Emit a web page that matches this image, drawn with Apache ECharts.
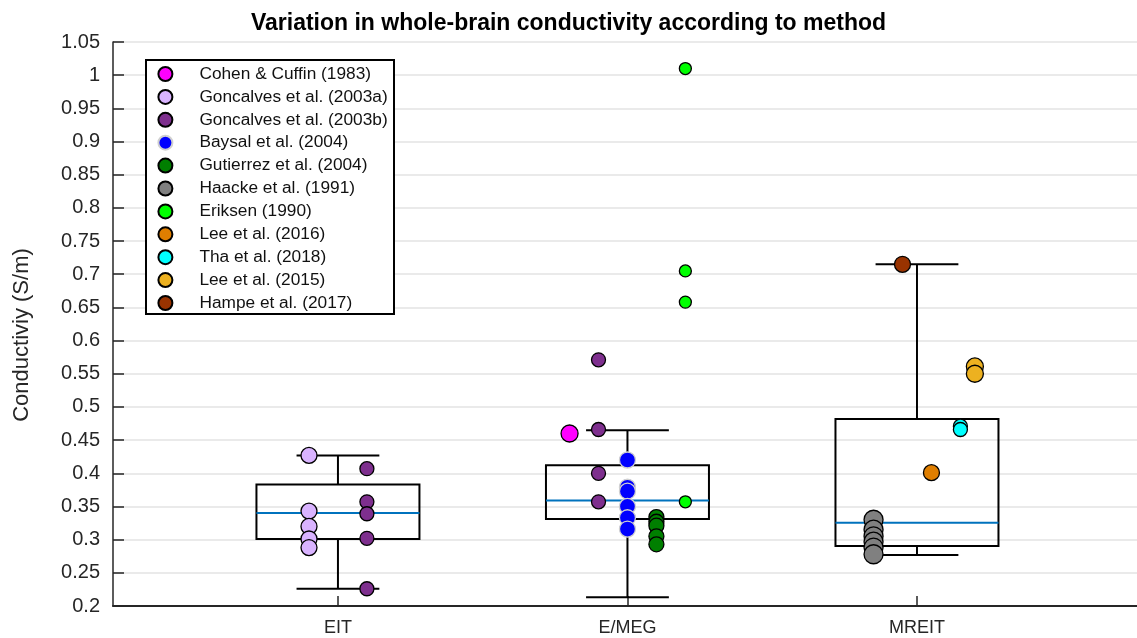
<!DOCTYPE html>
<html>
<head>
<meta charset="utf-8">
<script src="https://cdn.jsdelivr.net/npm/echarts@6/dist/echarts.min.js"></script>
<style>
html,body{margin:0;padding:0;background:#fff;}
#chart{width:1137px;height:638px;}
</style>
</head>
<body>
<div id="chart"></div>
<script>
// ---- data ----
const categories = ['EIT', 'E/MEG', 'MREIT'];
const categoryPositions = [1, 2, 3];
// [position, lower whisker, Q1, median, Q3, upper whisker]
const boxStats = [
  [1, 0.226, 0.301, 0.340, 0.383, 0.427],
  [2, 0.213, 0.331, 0.359, 0.412, 0.465],
  [3, 0.277, 0.2905, 0.3255, 0.482, 0.715]
];
const cohen1983 = [[1.80, 0.460]];
const goncalves2003a = [[0.90, 0.427], [0.90, 0.343], [0.90, 0.320], [0.90, 0.301], [0.90, 0.288]];
const goncalves2003b = [[1.10, 0.407], [1.10, 0.357], [1.10, 0.339], [1.10, 0.302], [1.10, 0.226],
                        [1.90, 0.571], [1.90, 0.466], [1.90, 0.400], [1.90, 0.357]];
const baysal2004 = [[2.00, 0.420], [2.00, 0.379], [2.00, 0.373], [2.00, 0.350], [2.00, 0.333], [2.00, 0.316]];
const gutierrez2004 = [[2.10, 0.334], [2.10, 0.327], [2.10, 0.321], [2.10, 0.305], [2.10, 0.293]];
const haacke1991 = [[2.85, 0.330], [2.85, 0.315], [2.85, 0.305], [2.85, 0.297], [2.85, 0.288], [2.85, 0.278]];
const eriksen1990 = [[2.20, 1.010], [2.20, 0.705], [2.20, 0.658], [2.20, 0.357]];
const lee2016 = [[3.05, 0.401]];
const tha2018 = [[3.15, 0.471], [3.15, 0.466]];
const lee2015 = [[3.20, 0.561], [3.20, 0.550]];
const hampe2017 = [[2.95, 0.715]];

// ---- styling ----
const FONT = 'Liberation Sans, Arial, Helvetica, sans-serif';
const AX = '#262626';

const studies = [
  {name: 'Cohen & Cuffin (1983)',     data: cohen1983,      color: '#FF00FF', size: 17, edge: '#000'},
  {name: 'Goncalves et al. (2003a)',  data: goncalves2003a, color: '#D9B3FF', size: 16, edge: '#000'},
  {name: 'Goncalves et al. (2003b)',  data: goncalves2003b, color: '#7E2F8E', size: 14, edge: '#000'},
  {name: 'Baysal et al. (2004)',      data: baysal2004,     color: '#0000FF', size: 16, edge: '#D0D0D0'},
  {name: 'Gutierrez et al. (2004)',   data: gutierrez2004,  color: '#007F00', size: 15, edge: '#000'},
  {name: 'Haacke et al. (1991)',      data: haacke1991,     color: '#808080', size: 19, edge: '#000'},
  {name: 'Eriksen (1990)',            data: eriksen1990,    color: '#00FF00', size: 12, edge: '#000'},
  {name: 'Lee et al. (2016)',         data: lee2016,        color: '#DF7E00', size: 16, edge: '#000'},
  {name: 'Tha et al. (2018)',         data: tha2018,        color: '#00FFFF', size: 14, edge: '#000'},
  {name: 'Lee et al. (2015)',         data: lee2015,        color: '#EDB120', size: 17, edge: '#000'},
  {name: 'Hampe et al. (2017)',       data: hampe2017,      color: '#993300', size: 16, edge: '#000'}
];

const chart = echarts.init(document.getElementById('chart'), null, {renderer: 'canvas'});

const boxSeries = {
  type: 'custom',
  z: 1,
  silent: true,
  data: boxStats,
  encode: {x: 0, y: [1, 2, 3, 4, 5]},
  renderItem: function (params, api) {
    const x = api.value(0);
    const pMin = api.coord([x, api.value(1)]);
    const pQ1 = api.coord([x, api.value(2)]);
    const pMed = api.coord([x, api.value(3)]);
    const pQ3 = api.coord([x, api.value(4)]);
    const pMax = api.coord([x, api.value(5)]);
    const hb = api.size([0.2815, 0])[0];
    const hc = api.size([0.143, 0])[0];
    const blk = {stroke: '#000', lineWidth: 2, fill: null};
    return {
      type: 'group',
      children: [
        {type: 'line', shape: {x1: pQ3[0], y1: pQ3[1], x2: pMax[0], y2: pMax[1]}, style: blk},
        {type: 'line', shape: {x1: pQ1[0], y1: pQ1[1], x2: pMin[0], y2: pMin[1]}, style: blk},
        {type: 'line', shape: {x1: pMax[0] - hc, y1: pMax[1], x2: pMax[0] + hc, y2: pMax[1]}, style: blk},
        {type: 'line', shape: {x1: pMin[0] - hc, y1: pMin[1], x2: pMin[0] + hc, y2: pMin[1]}, style: blk},
        {type: 'rect', shape: {x: pQ3[0] - hb, y: pQ3[1], width: 2 * hb, height: pQ1[1] - pQ3[1]},
         style: {stroke: '#000', lineWidth: 2, fill: 'none'}},
        {type: 'line', shape: {x1: pMed[0] - hb, y1: pMed[1], x2: pMed[0] + hb, y2: pMed[1]},
         style: {stroke: '#0072BD', lineWidth: 2}}
      ]
    };
  }
};

const scatterSeries = studies.map(s => ({
  type: 'scatter',
  name: s.name,
  z: 3,
  symbol: 'circle',
  symbolSize: s.size,
  data: s.data,
  itemStyle: {color: s.color, borderColor: s.edge, borderWidth: 1.3, opacity: 1},
  emphasis: {disabled: true}
}));

chart.setOption({
  animation: false,
  backgroundColor: '#fff',
  title: {
    text: 'Variation in whole-brain conductivity according to method',
    left: 'center',
    top: 12,
    padding: 0,
    textStyle: {fontFamily: FONT, fontSize: 23, fontWeight: 'bold', color: '#000'}
  },
  grid: {left: 113, right: 0, top: 42, bottom: 32, containLabel: false},
  xAxis: {
    type: 'value',
    min: 0.223,
    max: 3.76,
    axisLine: {show: true, lineStyle: {color: AX, width: 2}},
    axisTick: {show: true, inside: true, length: 10, customValues: categoryPositions,
               lineStyle: {color: AX, width: 1.5}},
    axisLabel: {customValues: categoryPositions, margin: 13, fontFamily: FONT, fontSize: 18, color: AX,
                formatter: v => categories[Math.round(v) - 1] || ''},
    splitLine: {show: false}
  },
  yAxis: {
    type: 'value',
    min: 0.2,
    max: 1.05,
    interval: 0.05,
    name: 'Conductiviy (S/m)',
    nameLocation: 'middle',
    nameGap: 80,
    nameTextStyle: {fontFamily: FONT, fontSize: 22, color: AX, padding: [0, 22, 0, 0]},
    axisLine: {show: true, lineStyle: {color: AX, width: 1.5}},
    axisTick: {show: true, inside: true, length: 11, lineStyle: {color: AX, width: 1.5}},
    axisLabel: {margin: 13, fontFamily: FONT, fontSize: 20, color: AX,
                formatter: v => String(parseFloat(v.toFixed(2)))},
    splitLine: {show: true, lineStyle: {color: '#E3E3E3', width: 1.5}}
  },
  graphic: [{
    type: 'rect',
    z: 90,
    shape: {x: 146, y: 60, width: 248, height: 254},
    style: {fill: '#fff', stroke: '#000', lineWidth: 2}
  }],
  legend: {
    z: 100,
    orient: 'vertical',
    left: 157.4,
    top: 65.5,
    padding: 0,
    itemWidth: 58,
    itemHeight: 14,
    itemGap: 5.9,
    icon: 'circle',
    selectedMode: false,
    data: studies.map(s => s.name),
    textStyle: {fontFamily: FONT, fontSize: 17.3, color: '#111'}
  },
  series: [boxSeries].concat(scatterSeries)
});
</script>
</body>
</html>
